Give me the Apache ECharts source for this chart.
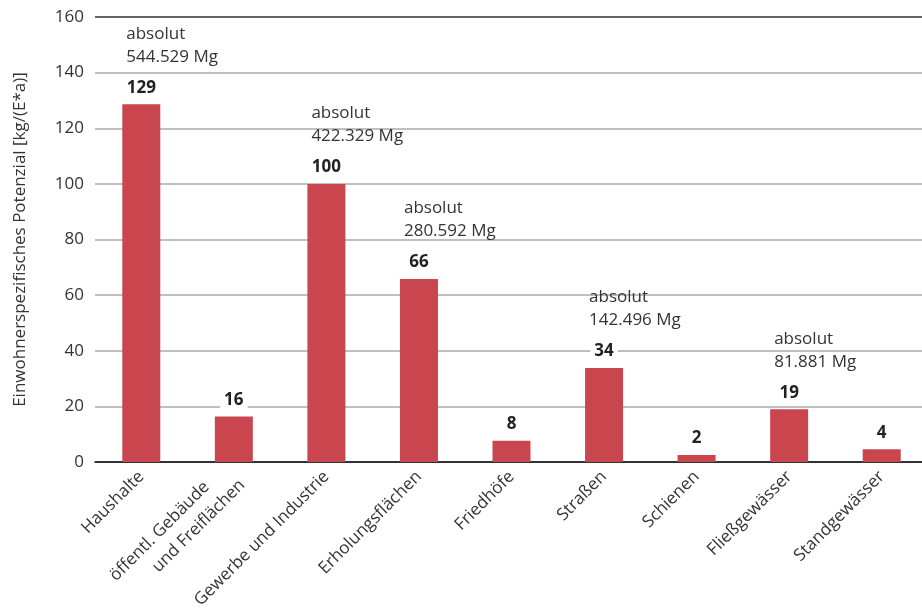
<!DOCTYPE html>
<html>
<head>
<meta charset="utf-8">
<script src="https://cdn.jsdelivr.net/npm/echarts@6/dist/echarts.min.js"></script>
<style>
  html, body { margin: 0; padding: 0; background: #fff; }
  #chart { width: 922px; height: 609px; }
</style>
</head>
<body>
<div id="chart"></div>
<script>
// Einwohnerspezifisches Potenzial je Herkunftsbereich
const categories = [
  "Haushalte",
  "öffentl. Gebäude\u00a0\u00a0\u00a0\u00a0\u00a0\u00a0\nund Freiflächen",
  "Gewerbe und Industrie",
  "Erholungsflächen",
  "Friedhöfe",
  "Straßen",
  "Schienen",
  "Fließgewässer",
  "Standgewässer",
];
const values = [128.6, 16.4, 100, 65.8, 7.6, 33.8, 2.5, 19, 4.6];
const valueLabels = ["129", "16", "100", "66", "8", "34", "2", "19", "4"];
const absoluteLabels = ["544.529 Mg", "", "422.329 Mg", "280.592 Mg", "", "142.496 Mg", "", "81.881 Mg", ""];
const yTicks = [0, 20, 40, 60, 80, 100, 120, 140, 160];

const FONT = "Open Sans";
const BAR_COLOR = "#c9464f";

// darker line at 0 and 160, grey in between
const splitColors = yTicks.map((t, i) => (i === 0 || i === yTicks.length - 1 ? "#333" : "#aaa"));

const chart = echarts.init(document.getElementById("chart"));

const option = {
  animation: false,
  textStyle: { fontFamily: FONT },
  grid: { left: 95, right: -6, top: 17, bottom: 147, outerBoundsMode: "none" },
  xAxis: {
    type: "category",
    data: categories,
    axisLine: { lineStyle: { color: "#222", width: 1.5 } },
    axisTick: { show: false },
    axisLabel: {
      interval: 0,
      rotate: 45,
      margin: 12,
      fontSize: 17,
      color: "#333",
      fontFamily: FONT,
      lineHeight: 24,
    },
  },
  yAxis: {
    type: "value",
    min: yTicks[0],
    max: yTicks[yTicks.length - 1],
    interval: 20,
    name: "Einwohnerspezifisches Potenzial [kg/(E*a)]",
    nameLocation: "middle",
    nameGap: 66,
    nameTextStyle: { fontSize: 17, color: "#333", fontFamily: FONT },
    axisLine: { show: false },
    axisTick: { show: false },
    axisLabel: { fontSize: 17, color: "#333", margin: 11, fontFamily: FONT },
    splitLine: { lineStyle: { color: splitColors, width: 1.5 } },
  },
  series: [
    {
      name: "Potenzial",
      type: "bar",
      data: values,
      barWidth: 38,
      itemStyle: { color: BAR_COLOR },
      label: {
        show: true,
        position: "top",
        distance: 8,
        formatter: (p) => valueLabels[p.dataIndex],
        fontSize: 17,
        fontWeight: "bold",
        color: "#222",
        fontFamily: FONT,
        backgroundColor: "#fff",
        padding: [0, 4],
      },
      z: 3,
    },
    {
      name: "absolut",
      type: "bar",
      barGap: "-100%",
      barWidth: 38,
      data: values.map((v, i) => (absoluteLabels[i] ? v : null)),
      itemStyle: { color: "rgba(0,0,0,0)" },
      silent: true,
      label: {
        show: true,
        position: "top",
        distance: 36,
        align: "left",
        offset: [-15, 0],
        lineHeight: 23,
        formatter: (p) => (absoluteLabels[p.dataIndex] ? "absolut\n" + absoluteLabels[p.dataIndex] : ""),
        fontSize: 17,
        color: "#333",
        fontFamily: FONT,
      },
      z: 4,
    },
  ],
};

chart.setOption(option);
</script>
</body>
</html>
